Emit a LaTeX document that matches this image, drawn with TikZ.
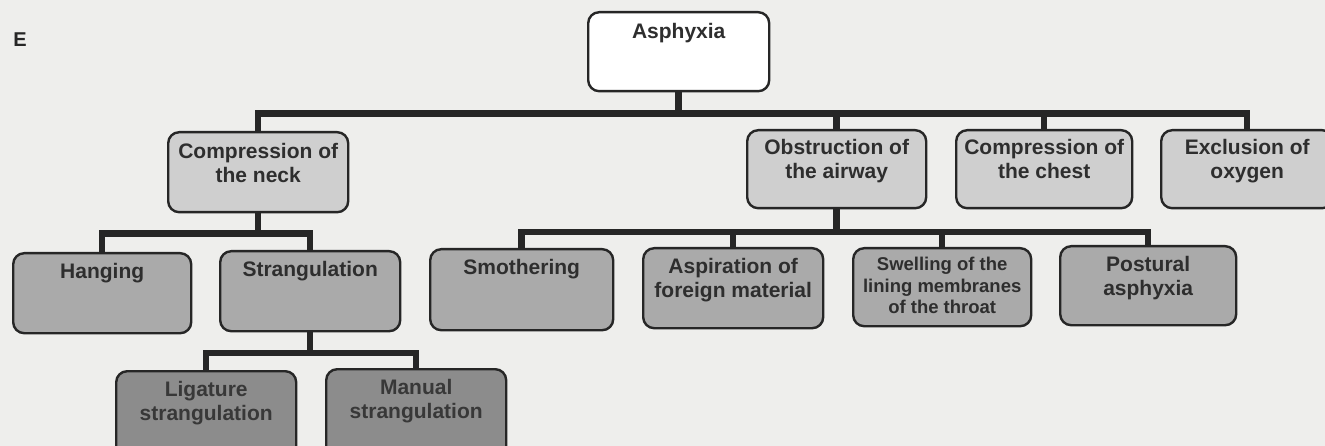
\documentclass[tikz,border=0pt]{standalone}
\usepackage{fontspec}
\setmainfont{Liberation Sans}
\definecolor{bg}{HTML}{EEEEEC}
\definecolor{linec}{HTML}{262626}
\definecolor{fillA}{HTML}{CFCFCF}
\definecolor{fillB}{HTML}{AAAAAA}
\definecolor{fillC}{HTML}{8C8C8C}
\definecolor{txt}{HTML}{2E2E2E}
\definecolor{txtC}{HTML}{383838}
\newcommand{\bt}[4][25.5]{\begin{minipage}[c][#3pt][t]{#2pt}\centering\rule{0pt}{#1pt}#4\end{minipage}}
\tikzset{
  box/.style={draw=linec, line width=2.4pt, rounded corners=11pt, inner sep=0pt,
    anchor=north west, font=\bfseries\fontsize{21}{24}\selectfont, text=txt},
  lvA/.style={box, fill=fillA},
  lvB/.style={box, fill=fillB},
  lvC/.style={box, fill=fillC, text=txtC},
  conn/.style={draw=linec, line width=6.5pt, line join=miter}
}
\begin{document}
\begin{tikzpicture}[x=1pt,y=-1pt]
\fill[bg] (0,0) rectangle (1325,446);
\useasboundingbox (0,0) rectangle (1325,446);
\clip (0,0) rectangle (1325,446);

\node[font=\bfseries\fontsize{20}{20}\selectfont, text=linec] (lbl) at (20,40) {E};

\node[box, fill=white] (asph) at (587,11) {\bt[26.5]{181}{79}{Asphyxia}};

\node[lvA] (neck)  at (167,131)  {\bt[26.5]{180}{80}{Compression of\\the neck}};
\node[lvA] (obst)  at (746,129)  {\bt[24.5]{179}{78}{Obstruction of\\the airway}};
\node[lvA] (chest) at (955,129)  {\bt[24.5]{176}{78}{Compression of\\the chest}};
\node[lvA] (excl)  at (1160,129) {\bt[24.5]{172}{78}{Exclusion of\\oxygen}};

\node[lvB] (hang)   at (12,252)  {\bt{178}{80}{Hanging}};
\node[lvB] (strang) at (219,250) {\bt{180}{80}{Strangulation}};
\node[lvB] (smoth)  at (429,248) {\bt{183}{81}{Smothering}};
\node[lvB] (aspir)  at (642,247) {\bt{180}{80}{Aspiration of\\foreign material}};
\node[lvB, font=\bfseries\fontsize{18.5}{21.5}\selectfont] (swell) at (852,247) {\bt[22.5]{178}{78}{Swelling of the\\lining membranes\\of the throat}};
\node[lvB] (post)   at (1059,245) {\bt{176}{79}{Postural\\asphyxia}};

\node[lvC] (lig) at (115,370) {\bt{180}{90}{Ligature\\strangulation}};
\node[lvC] (man) at (325,368) {\bt{180}{92}{Manual\\strangulation}};

\coordinate (barA) at (0,113.5);
\coordinate (barB) at (0,233.5);
\coordinate (barC) at (0,232);
\coordinate (barD) at (0,353);

\foreach \c in {neck,obst,chest,excl}
  \draw[conn] (asph.south) -- (asph.south |- barA) -| (\c.north);
\foreach \c in {hang,strang}
  \draw[conn] (neck.south) -- (neck.south |- barB) -| (\c.north);
\foreach \c in {smoth,aspir,swell,post}
  \draw[conn] (obst.south) -- (obst.south |- barC) -| (\c.north);
\foreach \c in {lig,man}
  \draw[conn] (strang.south) -- (strang.south |- barD) -| (\c.north);
\end{tikzpicture}
\end{document}
